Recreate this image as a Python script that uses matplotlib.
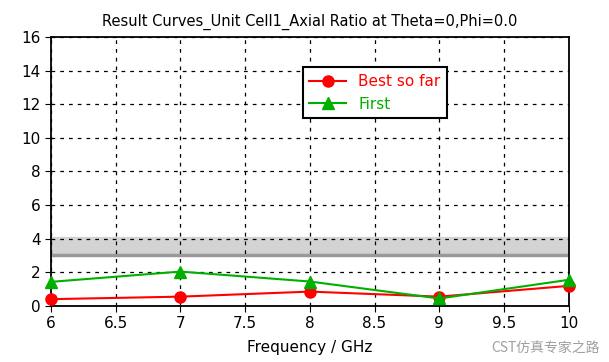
import numpy as np
import matplotlib
matplotlib.use('Agg')
import matplotlib.pyplot as plt

plt.rcParams['font.family'] = ['DejaVu Sans', 'Noto Sans CJK SC']

### data
freq = [6, 7, 8, 9, 10]
best_so_far = [0.40, 0.55, 0.85, 0.55, 1.19]
first = [1.43, 2.04, 1.45, 0.44, 1.55]
band_low = 3.0
band_high = 4.1

fig = plt.figure(figsize=(6.09, 3.62), dpi=100)
ax = fig.add_axes([0.0837, 0.155, 0.850, 0.743])

ax.axhspan(band_low, band_high, color='#d3d3d3', zorder=1)
ax.axhline(band_low, color='#999999', lw=2.5, zorder=1.5)

ax.plot(freq, best_so_far, color='#ff0000', lw=1.5, marker='o', ms=8, label='Best so far', zorder=3, clip_on=False)
ax.plot(freq, first, color='#00b000', lw=1.5, marker='^', ms=8, label='First', zorder=4, clip_on=False)

ax.set_xlim(6, 10)
ax.set_ylim(0, 16)
ax.set_xticks(np.arange(6, 10.01, 0.5))
ax.set_xticklabels(['6', '6.5', '7', '7.5', '8', '8.5', '9', '9.5', '10'])
ax.set_yticks(np.arange(0, 17, 2))
ax.grid(True, color='black', ls=(0, (3, 4)), lw=0.9)
ax.tick_params(labelsize=11, length=4, direction='out', color='black')
for s in ax.spines.values():
	s.set_linewidth(1.3)

ax.set_title('Result Curves_Unit Cell1_Axial Ratio at Theta=0,Phi=0.0', fontsize=10.5, pad=8)
ax.set_xlabel('Frequency / GHz', fontsize=11, labelpad=6)

leg = ax.legend(loc='upper left', bbox_to_anchor=(0.486, 0.888), borderaxespad=0, fontsize=11,
	frameon=True, fancybox=False, edgecolor='black', handlelength=2.4, borderpad=0.45,
	labelspacing=0.5, framealpha=1)
leg.get_frame().set_linewidth(1.5)
for txt, c in zip(leg.get_texts(), ['#ff0000', '#00b000']):
	txt.set_color(c)

# watermark, kept clear of the tick labels
fig.text(0.985, 0.025, 'CST仿真专家之路', fontsize=10, color='#888888', alpha=0.8, ha='right',
	family=['Noto Sans CJK SC', 'DejaVu Sans'])

fig.savefig('out.png', dpi=100)
